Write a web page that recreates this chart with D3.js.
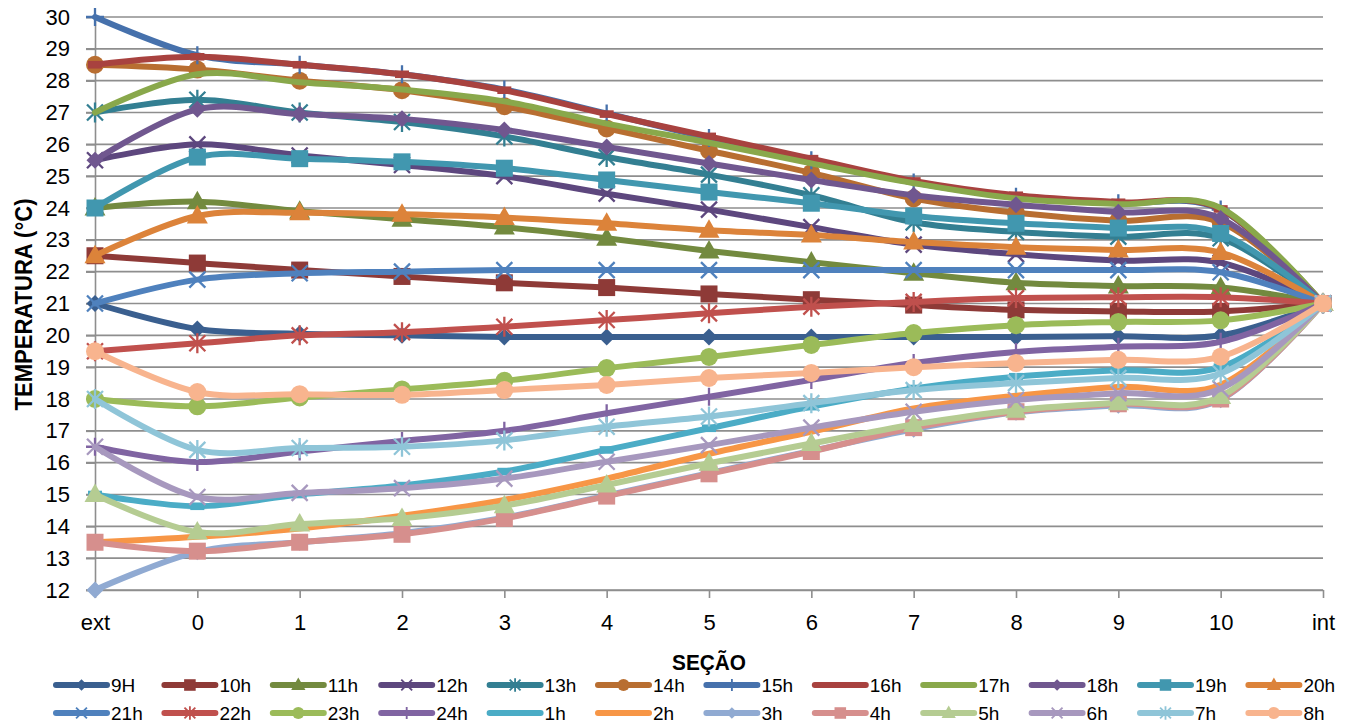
<!DOCTYPE html>
<html>
<head>
<meta charset="utf-8">
<script src="https://cdn.jsdelivr.net/npm/d3@7"></script>
<style>
  body { margin: 0; background: #fff; }
  text { font-family: "Liberation Sans", Arial, sans-serif; fill: #000; }
</style>
</head>
<body>
<svg id="chart" width="1357" height="726"></svg>
<script>
// Sections of the wall, from outside to inside
const sections = ["ext", "0", "1", "2", "3", "4", "5", "6", "7", "8", "9", "10", "int"];
const yTickValues = d3.range(12, 31);

// Temperature (°C) per section, one array per hour
const t9h  = [21.0, 20.2, 20.05, 20.0, 19.95, 19.95, 19.95, 19.95, 19.95, 19.95, 19.97, 20.0, 21];
const t10h = [22.5, 22.27, 22.05, 21.85, 21.65, 21.5, 21.3, 21.12, 20.95, 20.8, 20.75, 20.75, 21];
const t11h = [24.0, 24.2, 23.9, 23.65, 23.4, 23.05, 22.65, 22.3, 21.95, 21.65, 21.55, 21.5, 21];
const t12h = [25.5, 26.0, 25.65, 25.35, 25.0, 24.45, 23.95, 23.4, 22.85, 22.55, 22.35, 22.28, 21];
const t13h = [27.0, 27.4, 27.0, 26.7, 26.25, 25.6, 25.05, 24.4, 23.55, 23.25, 23.1, 23.05, 21];
const t14h = [28.5, 28.35, 28.0, 27.7, 27.2, 26.5, 25.8, 25.1, 24.3, 23.85, 23.6, 23.55, 21];
const t15h = [30.0, 28.8, 28.5, 28.2, 27.72, 26.97, 26.2, 25.5, 24.8, 24.35, 24.15, 23.95, 21];
const t16h = [28.5, 28.75, 28.5, 28.2, 27.7, 26.95, 26.25, 25.55, 24.85, 24.4, 24.18, 23.97, 21];
const t17h = [27.0, 28.2, 27.95, 27.72, 27.35, 26.65, 26.05, 25.4, 24.78, 24.3, 24.12, 24.0, 21];
const t18h = [25.5, 27.1, 26.95, 26.8, 26.45, 25.92, 25.4, 24.88, 24.4, 24.1, 23.87, 23.67, 21];
const t19h = [24.0, 25.6, 25.55, 25.45, 25.25, 24.88, 24.5, 24.15, 23.75, 23.52, 23.37, 23.2, 21];
const t20h = [22.5, 23.75, 23.85, 23.8, 23.7, 23.52, 23.3, 23.15, 22.93, 22.77, 22.68, 22.6, 21];
const t21h = [21.0, 21.75, 21.95, 22.0, 22.05, 22.05, 22.05, 22.05, 22.05, 22.05, 22.05, 21.98, 21];
const t22h = [19.5, 19.75, 20.0, 20.1, 20.27, 20.48, 20.69, 20.9, 21.05, 21.17, 21.2, 21.2, 21];
const t23h = [18.0, 17.77, 18.05, 18.3, 18.57, 18.97, 19.32, 19.7, 20.07, 20.32, 20.42, 20.47, 21];
const t24h = [16.5, 16.02, 16.35, 16.68, 17.0, 17.55, 18.07, 18.6, 19.13, 19.48, 19.64, 19.8, 21];
const t1h  = [15.0, 14.63, 15.0, 15.28, 15.72, 16.4, 17.08, 17.76, 18.33, 18.7, 18.9, 19.0, 21];
const t2h  = [13.5, 13.67, 13.93, 14.33, 14.83, 15.5, 16.28, 16.97, 17.7, 18.1, 18.38, 18.45, 21];
const t3h  = [12.0, 13.2, 13.5, 13.78, 14.27, 14.97, 15.67, 16.37, 17.05, 17.58, 17.8, 17.98, 21];
const t4h  = [13.5, 13.22, 13.5, 13.75, 14.25, 14.95, 15.65, 16.35, 17.1, 17.6, 17.85, 18.0, 21];
const t5h  = [15.0, 13.82, 14.07, 14.25, 14.65, 15.3, 15.98, 16.6, 17.2, 17.65, 17.88, 18.08, 21];
const t6h  = [16.5, 14.92, 15.05, 15.2, 15.5, 16.03, 16.55, 17.1, 17.6, 17.97, 18.18, 18.32, 21];
const t7h  = [18.0, 16.4, 16.46, 16.5, 16.7, 17.13, 17.45, 17.87, 18.28, 18.5, 18.66, 18.8, 21];
const t8h  = [19.5, 18.22, 18.15, 18.13, 18.28, 18.44, 18.66, 18.82, 19.0, 19.13, 19.23, 19.33, 21];

const hourLabels = ["9H", "10h", "11h", "12h", "13h", "14h", "15h", "16h", "17h", "18h", "19h", "20h",
                    "21h", "22h", "23h", "24h", "1h", "2h", "3h", "4h", "5h", "6h", "7h", "8h"];
const hourValues = [t9h, t10h, t11h, t12h, t13h, t14h, t15h, t16h, t17h, t18h, t19h, t20h,
                    t21h, t22h, t23h, t24h, t1h, t2h, t3h, t4h, t5h, t6h, t7h, t8h];

// Styling per series (colour and marker shape)
const hourColors = ["#3A5F8F", "#8E3A37", "#738A3F", "#5D477E", "#337F92", "#B86E31",
                    "#4671AC", "#A8423F", "#89A84B", "#70578F", "#4197AF", "#DC833A",
                    "#4F81BD", "#C0504D", "#9BBB59", "#8064A2", "#4BACC6", "#F79646",
                    "#90AAD2", "#D68F8D", "#B5CC92", "#A798BE", "#8FC5D8", "#F8B48E"];
const markerCycle = ["diamond", "square", "triangle", "x", "star", "circle", "plus", "dash", "none"];

const svg = d3.select("#chart");

const x = d3.scalePoint().domain(sections).range([95, 1323]);
const y = d3.scaleLinear().domain([12, 30]).range([590, 17]);

// Horizontal gridlines
svg.append("g")
  .selectAll("line")
  .data(yTickValues)
  .join("line")
  .attr("x1", 86).attr("x2", x("int"))
  .attr("y1", d => y(d)).attr("y2", d => y(d))
  .attr("stroke", "#8e8e8e").attr("stroke-width", 1.6);

// Y axis
const yAxis = svg.append("g")
  .attr("transform", `translate(${x("ext")},0)`)
  .call(d3.axisLeft(y).tickValues(yTickValues).tickFormat(d3.format("d")).tickSize(9).tickPadding(16));
yAxis.select(".domain").attr("stroke", "#8e8e8e").attr("stroke-width", 1.6);
yAxis.selectAll(".tick line").attr("stroke", "#8e8e8e").attr("stroke-width", 1.6);
yAxis.selectAll(".tick text")
  .style("font-size", "22px").style("font-family", '"Liberation Sans", Arial, sans-serif')
  .attr("fill", "#000");

// X axis
const xAxis = svg.append("g")
  .attr("transform", `translate(0,${y(12)})`)
  .call(d3.axisBottom(x).tickSize(8).tickSizeOuter(0).tickPadding(16));
xAxis.select(".domain").attr("stroke", "#8e8e8e").attr("stroke-width", 1.6);
xAxis.selectAll(".tick line").attr("stroke", "#8e8e8e").attr("stroke-width", 1.6);
xAxis.selectAll(".tick text")
  .style("font-size", "22px").style("font-family", '"Liberation Sans", Arial, sans-serif')
  .attr("fill", "#000");

// Axis titles (condensed to the width of the original narrow face)
svg.append("text")
  .attr("transform", `translate(32,${(y(12) + y(30)) / 2 + 1}) rotate(-90)`)
  .attr("text-anchor", "middle")
  .attr("textLength", 212).attr("lengthAdjust", "spacingAndGlyphs")
  .style("font-size", "23px").style("font-weight", "bold")
  .text("TEMPERATURA (°C)");

svg.append("text")
  .attr("x", (x("ext") + x("int")) / 2).attr("y", 670)
  .attr("text-anchor", "middle")
  .attr("textLength", 74).attr("lengthAdjust", "spacingAndGlyphs")
  .style("font-size", "22px").style("font-weight", "bold")
  .text("SEÇÃO");

// Marker drawing
function drawMarker(g, kind, color, s) {
  const lw = 2.3 * Math.max(s, 0.8);
  switch (kind) {
    case "diamond":
      g.append("path").attr("d", `M0,${-8.5*s}L${8.5*s},0L0,${8.5*s}L${-8.5*s},0Z`).attr("fill", color);
      break;
    case "square":
      g.append("rect").attr("x", -8.5*s).attr("y", -8.5*s).attr("width", 17*s).attr("height", 17*s).attr("fill", color);
      break;
    case "triangle":
      g.append("path").attr("d", `M0,${-11*s}L${10.5*s},${7.5*s}L${-10.5*s},${7.5*s}Z`).attr("fill", color);
      break;
    case "circle":
      g.append("circle").attr("r", 9*s).attr("fill", color);
      break;
    case "x":
      g.append("path").attr("d", `M${-8*s},${-8*s}L${8*s},${8*s}M${8*s},${-8*s}L${-8*s},${8*s}`)
        .attr("stroke", color).attr("stroke-width", lw).attr("fill", "none");
      break;
    case "star":
      g.append("path").attr("d", `M${-8*s},${-8*s}L${8*s},${8*s}M${8*s},${-8*s}L${-8*s},${8*s}M0,${-10*s}L0,${10*s}`)
        .attr("stroke", color).attr("stroke-width", lw).attr("fill", "none");
      break;
    case "plus":
      g.append("path").attr("d", `M0,${-9*s}L0,${9*s}M${-9*s},0L${9*s},0`)
        .attr("stroke", color).attr("stroke-width", lw).attr("fill", "none");
      break;
    case "dash":
      g.append("rect").attr("x", -7*s).attr("y", -3.8*s).attr("width", 14*s).attr("height", 7.6*s).attr("fill", color);
      break;
    default:
      break;
  }
}

// Smoothed series lines with markers
const line = d3.line()
  .x((d, i) => x(sections[i]))
  .y(d => y(d))
  .curve(d3.curveCatmullRom.alpha(0));

const plot = svg.append("g");
hourValues.forEach((vals, k) => {
  const color = hourColors[k];
  const kind = markerCycle[k % markerCycle.length];
  const sg = plot.append("g");
  sg.append("path")
    .attr("d", line(vals))
    .attr("fill", "none")
    .attr("stroke", color)
    .attr("stroke-width", 6)
    .attr("stroke-linejoin", "round")
    .attr("stroke-linecap", "round");
  vals.forEach((v, i) => {
    const mg = sg.append("g").attr("transform", `translate(${x(sections[i])},${y(v)})`);
    drawMarker(mg, kind, color, 1);
  });
});

// Legend: two rows of twelve entries
const legend = svg.append("g");
hourLabels.forEach((label, k) => {
  const row = Math.floor(k / 12), col = k % 12;
  const x0 = 54 + col * 108.4;
  const yc = 685 + row * 28;
  const color = hourColors[k];
  const kind = markerCycle[k % markerCycle.length];
  const lg = legend.append("g");
  lg.append("line")
    .attr("x1", x0 + 2).attr("x2", x0 + 53)
    .attr("y1", yc).attr("y2", yc)
    .attr("stroke", color).attr("stroke-width", 6).attr("stroke-linecap", "round");
  const mg = lg.append("g").attr("transform", `translate(${x0 + 27.5},${yc})`);
  drawMarker(mg, kind, color, 0.68);
  lg.append("text")
    .attr("x", x0 + 57).attr("y", yc + 7)
    .style("font-size", "19px")
    .text(label);
});
</script>
</body>
</html>
